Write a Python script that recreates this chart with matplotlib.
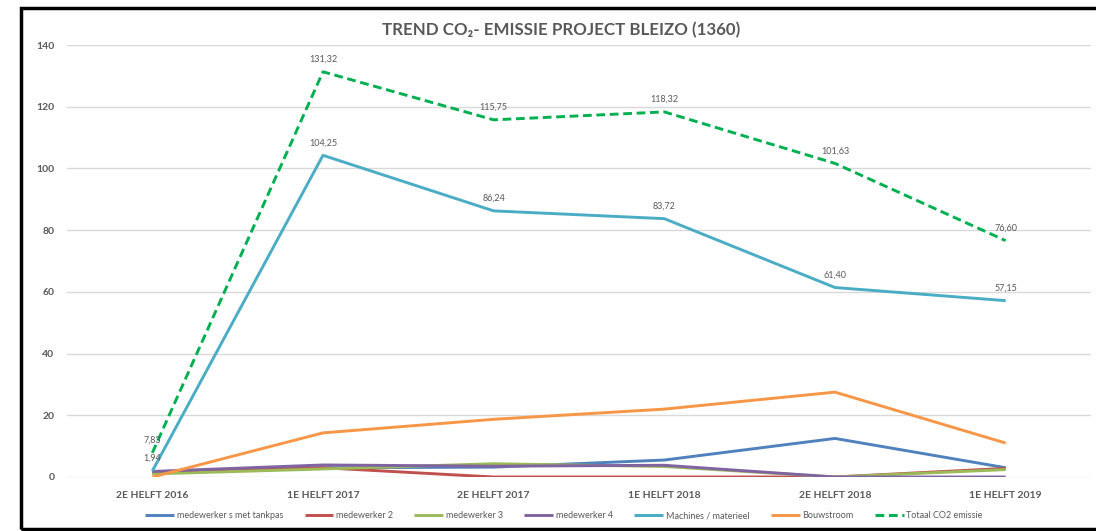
import matplotlib
matplotlib.use("Agg")
import matplotlib.pyplot as plt
from matplotlib.patches import Rectangle

plt.rcParams['font.family'] = ['Lato', 'DejaVu Sans']

categories = ["2E HELFT 2016", "1E HELFT 2017", "2E HELFT 2017",
              "1E HELFT 2018", "2E HELFT 2018", "1E HELFT 2019"]

tankpas = [1.5, 3.0, 3.2, 5.5, 12.5, 3.0]
medewerker2 = [1.4, 3.0, 0.0, 0.0, 0.0, 2.8]
medewerker3 = [1.0, 2.6, 4.3, 3.4, 0.0, 2.4]
medewerker4 = [1.8, 3.9, 3.5, 3.8, 0.0, 0.0]
machines = [1.94, 104.25, 86.24, 83.72, 61.40, 57.15]
bouwstroom = [0.0, 14.3, 18.7, 22.0, 27.5, 11.0]
totaal = [7.83, 131.32, 115.75, 118.32, 101.63, 76.60]

series_names = ["medewerker s met tankpas", "medewerker 2", "medewerker 3",
                "medewerker 4", "Machines / materieel", "Bouwstroom",
                "Totaal CO2 emissie"]
series_values = [tankpas, medewerker2, medewerker3, medewerker4,
                 machines, bouwstroom, totaal]
colors = ["#4F81BD", "#C0504D", "#9BBB59", "#8064A2", "#4BACC6", "#F79646", "#00B050"]
labelled = {"Machines / materieel", "Totaal CO2 emissie"}

W, H = 1096, 531
fig = plt.figure(figsize=(W / 100, H / 100), dpi=100)
ax = fig.add_axes([67 / W, 1 - 477 / H, (1091 - 67) / W, (477 - 45) / H])

x = list(range(len(categories)))
gray = "#595959"
for name, vals, c in zip(series_names, series_values, colors):
    ls = (0, (3, 1.6)) if name.startswith("Totaal") else "-"
    ax.plot(x, vals, color=c, lw=2.1, ls=ls, label=name, solid_capstyle='butt')
    if name in labelled:
        for xi, v in zip(x, vals):
            ax.annotate(f"{v:.2f}".replace(".", ","), (xi, v), xytext=(0, 9),
                        textcoords="offset points", ha="center", va="center",
                        fontsize=6.5, color=gray)

ax.set_xlim(-0.5, len(categories) - 0.5)
ax.set_ylim(0, 140)
ax.set_yticks(range(0, 141, 20))
ax.set_xticks(x)
ax.set_xticklabels(categories)
ax.grid(axis="y", color="#D9D9D9", lw=1)
ax.set_axisbelow(True)
for s in ax.spines.values():
    s.set_visible(False)
ax.tick_params(length=0, labelsize=7.5, colors=gray, pad=10)
ax.tick_params(axis="y", pad=9)
for lab in ax.get_xticklabels() + ax.get_yticklabels():
    lab.set_fontweight("bold")

fig.text(561 / W, 1 - 30 / H, "TREND CO₂- EMISSIE PROJECT BLEIZO (1360)",
         ha="center", va="center", fontsize=12.2, fontweight="bold", color=gray)

leg = fig.legend(loc="center", bbox_to_anchor=(564 / W, 1 - 516 / H), ncol=7,
                 frameon=False, fontsize=6.5, handlelength=3.2, handletextpad=0.3,
                 columnspacing=2.35, labelcolor=gray)

fig.patches.append(Rectangle((21 / W, 1 - 529 / H), (W + 5 - 21) / W, (529 - 8) / H,
                             transform=fig.transFigure, fill=False, lw=2.5,
                             edgecolor="black", zorder=10))

fig.savefig("out.png", dpi=100)
